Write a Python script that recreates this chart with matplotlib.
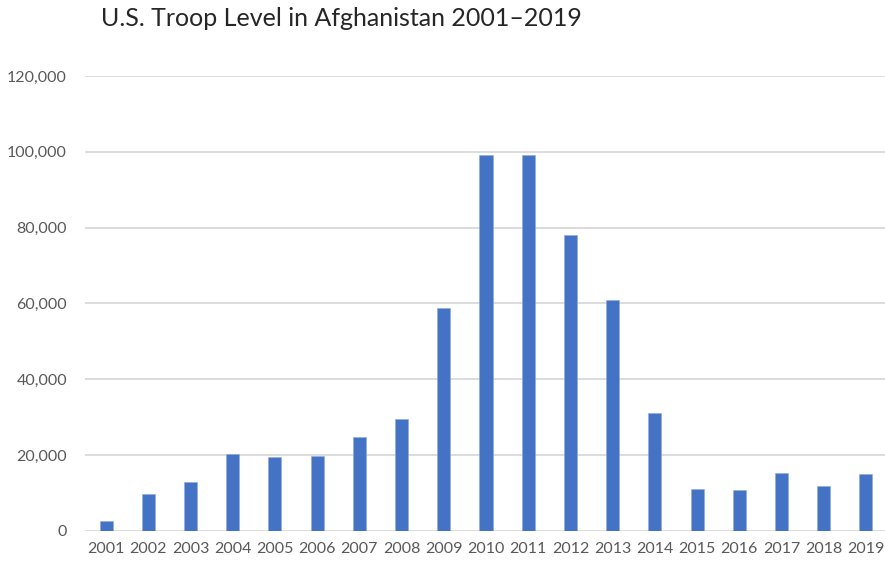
import matplotlib.pyplot as plt
from matplotlib.ticker import FuncFormatter

years = [str(y) for y in range(2001, 2020)]
troops = [2500, 9600, 12900, 20200, 19400, 19800, 24800, 29400, 58800,
          99000, 99000, 78100, 60800, 31100, 11100, 10700, 15200, 11900, 14900]
yticks = [0, 20000, 40000, 60000, 80000, 100000, 120000]

plt.rcParams['font.family'] = ['Lato', 'DejaVu Sans']

fig = plt.figure(figsize=(8.85, 5.65), dpi=100)
ax = fig.add_axes([85 / 885, 34.3 / 565, 802 / 885, 454.8 / 565])

ax.bar(range(len(years)), troops, width=0.31, color='#4472C4',
       edgecolor='#8FAADC', linewidth=0.4, zorder=3)

ax.set_xlim(-0.5, 18.5)
ax.set_ylim(0, 120000)
ax.set_yticks(yticks)
ax.yaxis.set_major_formatter(FuncFormatter(lambda v, p: f"{int(v):,}"))
ax.set_xticks(range(len(years)))
ax.set_xticklabels(years)

ax.grid(axis='y', color='#D9D9D9', linewidth=1.3, zorder=0)
for s in ax.spines.values():
    s.set_visible(False)
ax.tick_params(axis='both', length=0, labelsize=11.5, colors='#595959')
ax.tick_params(axis='y', pad=13)
ax.tick_params(axis='x', pad=8)

fig.text(101 / 885, 1 - 18 / 565, "U.S. Troop Level in Afghanistan 2001\u20132019",
         fontsize=18, color='#262626', ha='left', va='center')

fig.savefig('out.png', dpi=100)
